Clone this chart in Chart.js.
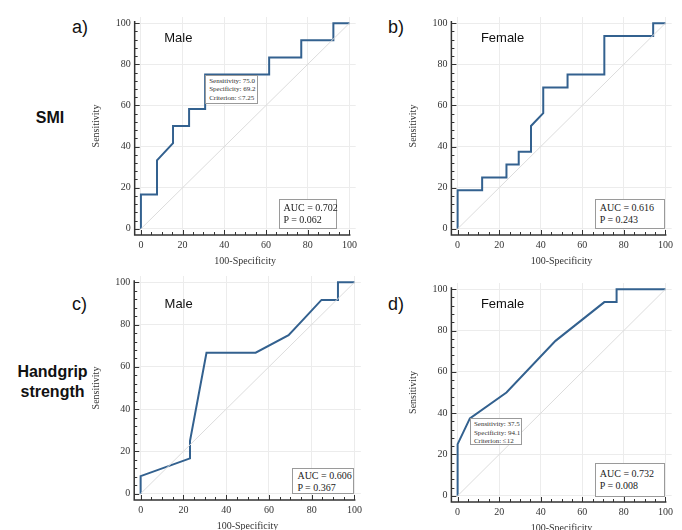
<!DOCTYPE html>
<html>
<head>
<meta charset="utf-8">
<script src="https://cdn.jsdelivr.net/npm/chart.js@4.4.1/dist/chart.umd.min.js"></script>
<style>
  body { margin: 0; background: #fff; width: 682px; height: 530px; position: relative; overflow: hidden; }
  canvas { position: absolute; }
  .lbl { position: absolute; font-family: "Liberation Sans", Arial, sans-serif; color: #111; white-space: nowrap; }
  .panel { font-size: 18px; }
  .grp { font-size: 16px; font-weight: bold; text-align: center; line-height: 20px; }
  .sex { font-size: 13px; line-height: 15px; }
  .auc { position: absolute; border: 1px solid #9a9a9a; background: #fff; font-family: "Liberation Serif", "Times New Roman", serif;
         font-size: 10px; line-height: 12px; color: #222; padding: 3px 4px; box-sizing: border-box; white-space: nowrap; }
  .crit { position: absolute; border: 1px solid #9a9a9a; background: #fff; font-family: "Liberation Serif", "Times New Roman", serif;
          font-size: 7px; line-height: 8.5px; color: #333; padding: 1px 3px; box-sizing: border-box; white-space: nowrap; }
</style>
</head>
<body>
<div class="lbl panel" style="left:72px;top:17px">a)</div>
<div class="lbl panel" style="left:388px;top:17px">b)</div>
<div class="lbl panel" style="left:72px;top:294px">c)</div>
<div class="lbl panel" style="left:388px;top:294px">d)</div>
<div class="lbl grp" style="left:20px;top:108px;width:60px">SMI</div>
<div class="lbl grp" style="left:10px;top:362px;width:85px">Handgrip<br>strength</div>

<script>
// x = 100-Specificity, y = Sensitivity (%)
var ticksMain = [0, 20, 40, 60, 80, 100];

var smiMaleFpr  = [0, 0, 7.7, 7.7, 15.4, 15.4, 23.1, 23.1, 30.8, 30.8, 61.5, 61.5, 76.9, 76.9, 92.3, 92.3, 100];
var smiMaleSens = [0, 16.7, 16.7, 33.3, 41.7, 50, 50, 58.3, 58.3, 75, 75, 83.3, 83.3, 91.7, 91.7, 100, 100];

var smiFemaleFpr  = [0, 0, 11.8, 11.8, 23.5, 23.5, 29.4, 29.4, 35.3, 35.3, 41.2, 41.2, 52.9, 52.9, 70.6, 70.6, 94.1, 94.1, 100];
var smiFemaleSens = [0, 18.75, 18.75, 25, 25, 31.25, 31.25, 37.5, 37.5, 50, 56.25, 68.75, 68.75, 75, 75, 93.75, 93.75, 100, 100];

var hgMaleFpr  = [0, 0, 23.1, 23.1, 30.8, 53.8, 69.2, 76.9, 84.6, 92.3, 92.3, 100];
var hgMaleSens = [0, 8.3, 16.7, 25, 66.7, 66.7, 75, 83.3, 91.7, 91.7, 100, 100];

var hgFemaleFpr  = [0, 0, 5.9, 23.5, 47.1, 70.6, 76.5, 76.5, 100];
var hgFemaleSens = [0, 25, 37.5, 50, 75, 93.75, 93.75, 100, 100];

var diagX = [0, 100];
var diagY = [0, 100];

var sexNames = ["Male", "Female", "Male", "Female"];
var aucText = ["0.702", "0.616", "0.606", "0.732"];
var pText = ["0.062", "0.243", "0.367", "0.008"];

function pts(xs, ys) {
  return xs.map(function (v, i) { return { x: v, y: ys[i] }; });
}

// pixel frame of each plot: where 0 and 100 land; box = AUC box edges in axis units
var panels = [
  { x0: 141, x1: 352, y0: 229, y1: 19, fpr: smiMaleFpr, sens: smiMaleSens, sexY: 93, box: [66, 94, 14.3, 0] },
  { x0: 457.7, x1: 668, y0: 229, y1: 19, fpr: smiFemaleFpr, sens: smiFemaleSens, sexY: 93, box: [66, 100, 14.3, 0] },
  { x0: 140.7, x1: 356.7, y0: 493.3, y1: 278.3, fpr: hgMaleFpr, sens: hgMaleSens, sexY: 90, box: [71, 100, 12.2, 0] },
  { x0: 457.7, x1: 668, y0: 496, y1: 285, fpr: hgFemaleFpr, sens: hgFemaleSens, sexY: 93, box: [66, 100, 16, -0.5] }
];

var serif = "'Liberation Serif', 'Times New Roman', serif";

var axesPlugin = {
  id: 'medAxes',
  afterDatasetsDraw: function (chart) {
    var ctx = chart.ctx, xs = chart.scales.x, ys = chart.scales.y;
    var left = xs.getPixelForValue(-3), bottom = ys.getPixelForValue(-3);
    ctx.save();
    ctx.strokeStyle = '#333';
    ctx.lineWidth = 1.5;
    ctx.beginPath();
    ctx.moveTo(left, ys.getPixelForValue(101));
    ctx.lineTo(left, bottom);
    ctx.lineTo(xs.getPixelForValue(100) + 1, bottom);
    ctx.stroke();
    ctx.lineWidth = 1;
    ctx.beginPath();
    for (var v = 0; v <= 100; v += 5) {
      var px = Math.round(xs.getPixelForValue(v)) + 0.5;
      var len = v % 20 === 0 ? 5 : 3;
      ctx.moveTo(px, bottom);
      ctx.lineTo(px, bottom - len);
    }
    for (var w = 0; w <= 100; w += 4) {
      var py = Math.round(ys.getPixelForValue(w)) + 0.5;
      var l2 = w % 20 === 0 ? 5 : 3;
      ctx.moveTo(left, py);
      ctx.lineTo(left + l2, py);
    }
    ctx.stroke();
    ctx.restore();
  }
};

var charts = [];
panels.forEach(function (p, k) {
  var ux = (p.x1 - p.x0) / 100, uy = (p.y0 - p.y1) / 100;
  var aL = p.x0 - 3 * ux, aR = p.x1 + 3 * ux, aT = p.y1 - 3 * uy, aB = p.y0 + 3 * uy;
  var cl = Math.round(aL - 44), ct = Math.round(aT - 6);
  var w = Math.round(aR - cl + 3), h = Math.round(aB - ct + 32);

  var cv = document.createElement('canvas');
  cv.width = w; cv.height = h;
  cv.style.left = cl + 'px'; cv.style.top = ct + 'px';
  cv.style.width = w + 'px'; cv.style.height = h + 'px';
  document.body.appendChild(cv);

  var chart = new Chart(cv, {
    type: 'scatter',
    data: {
      datasets: [
        { data: pts(diagX, diagY), showLine: true, borderColor: '#dcdcdc', borderWidth: 1, pointRadius: 0 },
        { data: pts(p.fpr, p.sens), showLine: true, borderColor: '#33618f', borderWidth: 2, pointRadius: 0, tension: 0 }
      ]
    },
    options: {
      responsive: false,
      animation: false,
      devicePixelRatio: 1,
      layout: { padding: { top: aT - ct, right: w - (aR - cl), left: aL - cl - 44, bottom: 0 } },
      plugins: { legend: { display: false }, tooltip: { enabled: false } },
      scales: {
        x: {
          type: 'linear', min: -3, max: 103,
          afterBuildTicks: function (s) { s.ticks = ticksMain.map(function (v) { return { value: v }; }); },
          afterFit: function (s) { s.height = 32; },
          ticks: { font: { family: serif, size: 10 }, color: '#333', padding: 4, maxRotation: 0 },
          grid: { color: '#ececec', drawTicks: false },
          border: { display: false },
          title: { display: true, text: '100-Specificity', font: { family: serif, size: 10 }, color: '#333', padding: { top: 1, bottom: 0 } }
        },
        y: {
          type: 'linear', min: -3, max: 103,
          afterBuildTicks: function (s) { s.ticks = ticksMain.map(function (v) { return { value: v }; }); },
          afterFit: function (s) { s.width = 44; },
          ticks: { font: { family: serif, size: 10 }, color: '#333', padding: 4 },
          grid: { color: '#ececec', drawTicks: false },
          border: { display: false },
          title: { display: true, text: 'Sensitivity', font: { family: serif, size: 10 }, color: '#333', padding: { top: 0, bottom: 2 } }
        }
      }
    },
    plugins: [axesPlugin]
  });
  charts.push({ chart: chart, left: cl, top: ct });

  var xs = chart.scales.x, ys = chart.scales.y;
  var sx = document.createElement('div');
  sx.className = 'lbl sex';
  sx.textContent = sexNames[k];
  sx.style.left = (cl + xs.getPixelForValue(11.2)) + 'px';
  sx.style.top = (ct + ys.getPixelForValue(p.sexY) - 7.5) + 'px';
  document.body.appendChild(sx);

  var box = document.createElement('div');
  box.className = 'auc';
  box.innerHTML = 'AUC = ' + aucText[k] + '<br>P = ' + pText[k];
  var bl = cl + xs.getPixelForValue(p.box[0]);
  var br = cl + xs.getPixelForValue(p.box[1]);
  var bt = ct + ys.getPixelForValue(p.box[2]);
  var bb = ct + ys.getPixelForValue(p.box[3]);
  box.style.left = bl + 'px'; box.style.top = bt + 'px';
  box.style.width = (br - bl) + 'px'; box.style.height = (bb - bt) + 'px';
  box.style.paddingTop = Math.max(1, (bb - bt - 26) / 2) + 'px';
  document.body.appendChild(box);
});

function critBox(idx, fx, sy, lines, bw, bh) {
  var c = charts[idx];
  var d = document.createElement('div');
  d.className = 'crit';
  d.innerHTML = lines.join('<br>');
  d.style.left = (c.left + c.chart.scales.x.getPixelForValue(fx)) + 'px';
  d.style.top = (c.top + c.chart.scales.y.getPixelForValue(sy)) + 'px';
  d.style.width = bw + 'px'; d.style.height = bh + 'px';
  document.body.appendChild(d);
}
critBox(0, 30.8, 75, ['Sensitivity: 75.0', 'Specificity: 69.2', 'Criterion: \u22647.25'], 53, 29);
critBox(3, 5.9, 37.5, ['Sensitivity: 37.5', 'Specificity: 94.1', 'Criterion: \u226412'], 52, 27);
</script>
</body>
</html>
